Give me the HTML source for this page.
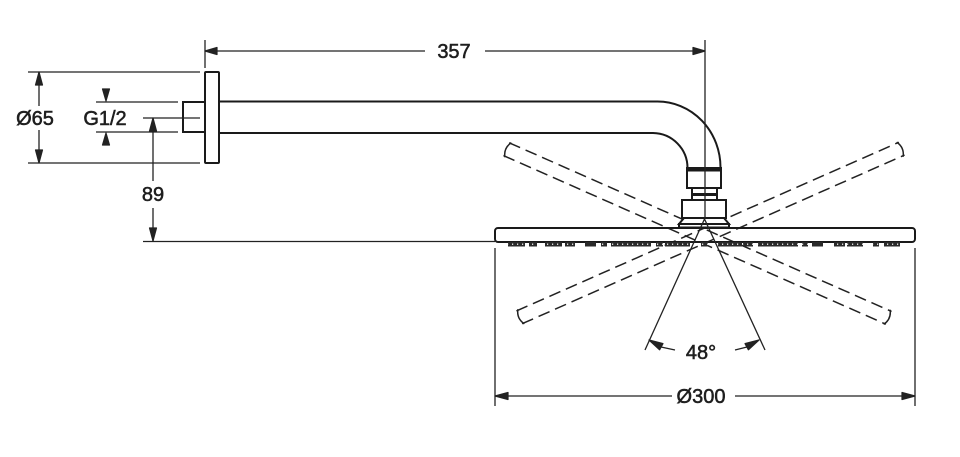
<!DOCTYPE html>
<html><head><meta charset="utf-8"><style>
html,body{margin:0;padding:0;background:#fff;}
svg{display:block;}
text{font-family:"Liberation Sans",sans-serif;font-size:20px;fill:#1e1e1e;stroke:#1e1e1e;stroke-width:0.55;text-anchor:middle;}
</style></head><body>
<svg width="960" height="457" viewBox="0 0 960 457" xmlns="http://www.w3.org/2000/svg">
<defs>
<pattern id="nz" patternUnits="userSpaceOnUse" width="5" height="6" x="0" y="242">
<rect width="5" height="6" fill="#2a2a2a"/>
<rect x="2" y="1.5" width="1.2" height="1.5" fill="#ddd"/>
</pattern>
</defs>
<rect width="960" height="457" fill="#fff"/>

<!-- dashed swivel bars -->
<g fill="none" stroke="#222" stroke-width="1.5">
<g transform="translate(697.5,233.5) rotate(23.8)">
<line x1="-209" y1="-7" x2="209" y2="-7" stroke-dasharray="12 6"/>
<line x1="-209" y1="7" x2="209" y2="7" stroke-dasharray="12 6"/>
<path d="M-207,-8 Q-212,0 -207,8"/>
<path d="M207,-8 Q212,0 207,8"/>
</g>
<g transform="translate(710.5,233) rotate(-23.8)">
<line x1="-209" y1="-7" x2="209" y2="-7" stroke-dasharray="12 6"/>
<line x1="-209" y1="7" x2="209" y2="7" stroke-dasharray="12 6"/>
<path d="M-207,-8 Q-212,0 -207,8"/>
<path d="M207,-8 Q212,0 207,8"/>
</g>
</g>

<!-- arm -->
<g fill="none" stroke="#1a1a1a" stroke-width="2">
<path d="M219,101.5 L657,101.5 A63,66 0 0 1 720.5,168"/>
<path d="M219,133 L653,133 A35,35 0 0 1 687.5,168"/>
</g>

<!-- connector -->
<g stroke="#1a1a1a" stroke-width="2" fill="#fff">
<rect x="687" y="168" width="34" height="20"/>
<rect x="692" y="188" width="25" height="12"/>
<rect x="682" y="200" width="44" height="18"/>
<polygon points="684,218 724,218 729,224 679,224"/>
<rect x="679" y="224" width="50" height="3.5"/>
</g>
<rect x="687" y="168" width="34" height="3.5" fill="#1a1a1a"/>
<rect x="692" y="193" width="25" height="3" fill="#1a1a1a"/>

<!-- plate -->
<rect x="495" y="228" width="420" height="14" rx="3" fill="none" stroke="#1a1a1a" stroke-width="2"/>

<!-- nozzles -->
<g fill="url(#nz)">
<rect x="508" y="242" width="17" height="4.5"/>
<rect x="529" y="242" width="8" height="4.5"/>
<rect x="545" y="242" width="17" height="4.5"/>
<rect x="565" y="242" width="10" height="4.5"/>
<rect x="585" y="242" width="11" height="4.5" fill="#2a2a2a"/>
<rect x="601" y="242" width="6" height="4.5"/>
<rect x="611" y="242" width="40" height="4.5"/>
<rect x="656" y="242" width="7" height="4.5"/>
<rect x="665" y="242" width="25" height="4.5"/>
<rect x="701" y="242" width="7" height="4.5"/>
<rect x="718" y="242" width="24" height="4.5"/>
<rect x="743" y="242" width="10" height="4.5"/>
<rect x="758" y="242" width="40" height="4.5"/>
<rect x="802" y="242" width="6" height="4.5"/>
<rect x="812" y="242" width="11" height="4.5" fill="#2a2a2a"/>
<rect x="834" y="242" width="11" height="4.5"/>
<rect x="847" y="242" width="16" height="4.5"/>
<rect x="873" y="242" width="6" height="4.5"/>
<rect x="884" y="242" width="16" height="4.5"/>
</g>

<!-- flange and nut -->
<g stroke="#1a1a1a" stroke-width="2" fill="#fff">
<rect x="205" y="72" width="14" height="91" rx="1"/>
<rect x="183" y="102" width="22" height="30"/>
</g>

<!-- dimension / extension lines -->
<g stroke="#222" stroke-width="1.3" fill="none">
<line x1="205" y1="40" x2="205" y2="68"/>
<line x1="705" y1="40" x2="705" y2="219"/>
<line x1="205" y1="51" x2="425" y2="51"/>
<line x1="485" y1="51" x2="705" y2="51"/>
<line x1="28" y1="72" x2="200" y2="72"/>
<line x1="28" y1="163" x2="200" y2="163"/>
<line x1="39" y1="72" x2="39" y2="106"/>
<line x1="39" y1="130" x2="39" y2="163"/>
<line x1="96" y1="102" x2="178" y2="102"/>
<line x1="96" y1="132" x2="178" y2="132"/>
<line x1="143" y1="118" x2="200" y2="118"/>
<line x1="153" y1="118" x2="153" y2="181"/>
<line x1="153" y1="208" x2="153" y2="241"/>
<line x1="143" y1="241.5" x2="495" y2="241.5"/>
<line x1="495" y1="248" x2="495" y2="406"/>
<line x1="915" y1="248" x2="915" y2="406"/>
<line x1="495" y1="396" x2="672" y2="396"/>
<line x1="735" y1="396" x2="915" y2="396"/>
<line x1="704.5" y1="219" x2="645" y2="350"/>
<line x1="704.5" y1="219" x2="765" y2="350"/>
<line x1="661" y1="347" x2="675" y2="350"/>
<line x1="747" y1="347" x2="735" y2="350"/>
</g>

<!-- arrowheads -->
<g fill="#222" stroke="#222" stroke-width="1.2" stroke-linejoin="round">
<polygon points="205,51 217,47.5 217,54.5"/>
<polygon points="705,51 693,47.5 693,54.5"/>
<polygon points="39,72 35.5,85 42.5,85"/>
<polygon points="39,163 35.5,150 42.5,150"/>
<polygon points="106,101 102.5,89 109.5,89"/>
<polygon points="106,133 102.5,145 109.5,145"/>
<polygon points="153,118 149.5,131 156.5,131"/>
<polygon points="153,241 149.5,228 156.5,228"/>
<polygon points="495,396 508,392.5 508,399.5"/>
<polygon points="915,396 902,392.5 902,399.5"/>
<polygon points="649,340 659.6,349.8 663,343.6"/>
<polygon points="759,340 748.4,349.8 745,343.6"/>
</g>

<!-- labels -->
<text x="454" y="58">357</text>
<text x="35" y="125">Ø65</text>
<text x="105" y="125">G1/2</text>
<text x="153" y="201">89</text>
<text x="701" y="359">48°</text>
<text x="701" y="403">Ø300</text>
</svg>
</body></html>
